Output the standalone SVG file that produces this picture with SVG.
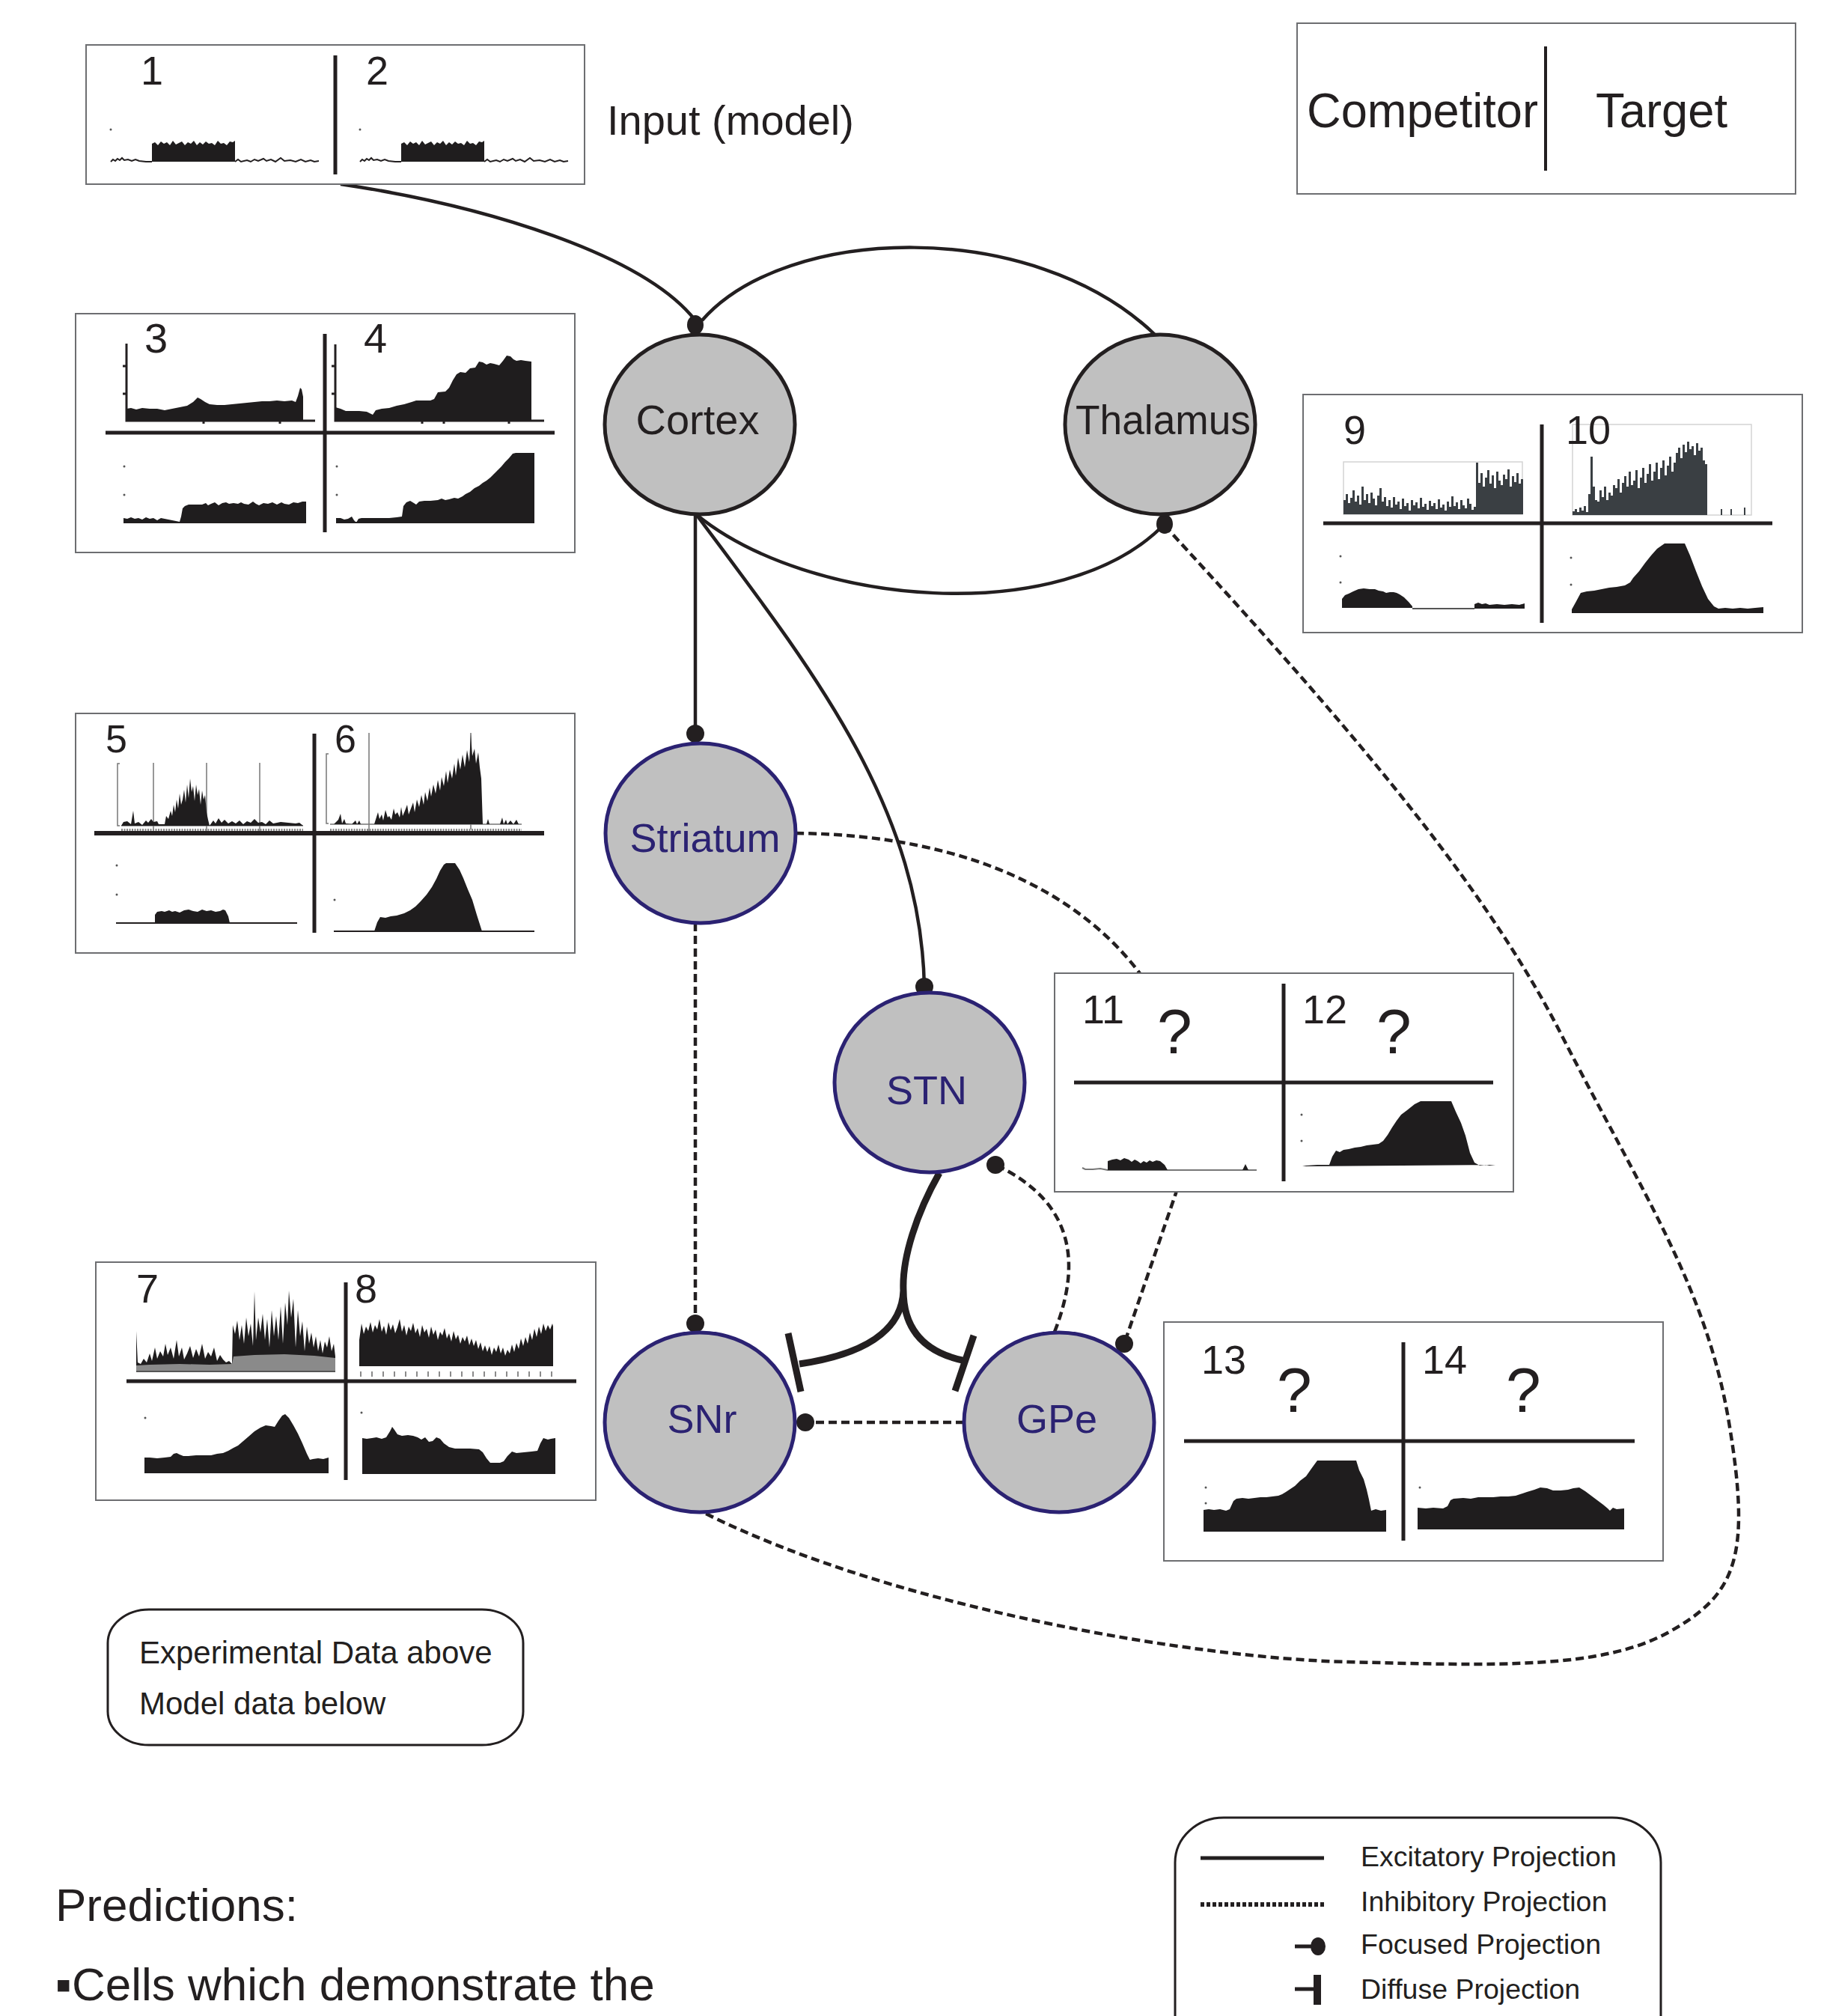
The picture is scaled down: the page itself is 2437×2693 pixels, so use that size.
<svg xmlns="http://www.w3.org/2000/svg" width="2437" height="2693" viewBox="0 0 2437 2693">
<style>
text{font-family:"Liberation Sans",Arial,"DejaVu Sans",sans-serif;fill:#231f20}
.box{fill:#fff;stroke:#6d6e71;stroke-width:2}
.div{stroke:#231f20;stroke-width:5;fill:none}
.hist{fill:#1f1d1e}
.gh{fill:#3a3f43}
.ax{fill:none;stroke:#231f20;stroke-width:2.5}
.thin{fill:none;stroke:#777;stroke-width:1.5}
.frame{fill:none;stroke:#d4d4d4;stroke-width:1.5}
.num{font-size:54px}
.q{font-size:84px}
.ntop{fill:#c0c0c0;stroke:#231f20;stroke-width:5}
.nbot{fill:#c0c0c0;stroke:#2b2272;stroke-width:5}
.lbl{font-size:56px;text-anchor:middle}
.lbl2{font-size:54px;text-anchor:middle;fill:#2b2272}
.conn{fill:none;stroke:#231f20;stroke-width:4.5}
.dash{stroke-dasharray:11 6}
.thick{stroke-width:9}
.dot{fill:#231f20}
.leg{font-size:37.5px}
</style>

<!-- connectors -->
<g id="connectors">
  <path class="conn" d="M455,246 C650,275 860,340 929,428"/>
  <path class="conn" d="M938,428 C1050,300 1380,290 1543,447"/>
  <path class="conn" d="M930,687 C1080,810 1420,840 1556,700"/>
  <path class="conn" d="M929,687 V979"/>
  <path class="conn" d="M930,687 C1090,900 1230,1080 1235,1318"/>
  <path class="conn dash" d="M929,1233 V1768"/>
  <path class="conn dash" d="M1063,1113 C1300,1115 1480,1200 1560,1360 C1600,1450 1580,1560 1571,1594 L1502,1795"/>
  <path class="conn dash" d="M1556,702 C1770,935 1975,1165 2085,1380 S2280,1720 2310,1900 S2320,2130 2230,2180 S2000,2225 1800,2220 S1200,2150 941,2021"/>
  <path class="conn thick" d="M1255,1567 C1225,1620 1205,1680 1207,1724 C1205,1780 1150,1810 1068,1822 M1207,1724 C1207,1780 1240,1808 1290,1818"/>
  <path class="conn thick" d="M1053,1781 L1070,1859 M1301,1784 L1276,1858"/>
  <path class="conn dash" d="M1409,1779 C1440,1700 1445,1610 1330,1556"/>
  <path class="conn dash" d="M1288,1900 H1076"/>
  <ellipse class="dot" cx="929" cy="434" rx="11" ry="13"/>
  <ellipse class="dot" cx="1556" cy="700" rx="11" ry="13"/>
  <circle class="dot" cx="929" cy="980" r="12"/>
  <circle class="dot" cx="1235" cy="1318" r="12"/>
  <circle class="dot" cx="929" cy="1768" r="12"/>
  <circle class="dot" cx="1330" cy="1556" r="12"/>
  <circle class="dot" cx="1502" cy="1795" r="12"/>
  <circle class="dot" cx="1076" cy="1900" r="12"/>
</g>

<!-- nodes -->
<g id="node-cortex"><ellipse class="ntop" cx="935" cy="567" rx="127" ry="120"/><text class="lbl" x="932" y="580">Cortex</text></g>
<g id="node-thalamus"><ellipse class="ntop" cx="1550" cy="567" rx="127" ry="120"/><text class="lbl" x="1554" y="580" textLength="234" lengthAdjust="spacingAndGlyphs">Thalamus</text></g>
<g id="node-striatum"><ellipse class="nbot" cx="936" cy="1113" rx="127" ry="120"/><text class="lbl2" x="942" y="1138">Striatum</text></g>
<g id="node-stn"><ellipse class="nbot" cx="1242" cy="1446" rx="127" ry="120"/><text class="lbl2" x="1238" y="1475">STN</text></g>
<g id="node-snr"><ellipse class="nbot" cx="935" cy="1900" rx="127" ry="120"/><text class="lbl2" x="938" y="1914">SNr</text></g>
<g id="node-gpe"><ellipse class="nbot" cx="1415" cy="1900" rx="127" ry="120"/><text class="lbl2" x="1412" y="1914">GPe</text></g>

<!-- input panel -->
<g id="panel-input">
  <rect class="box" x="115" y="60" width="666" height="186"/>
  <line class="div" x1="448" y1="74" x2="448" y2="233"/>
  <text class="num" x="188" y="113">1</text>
  <text class="num" x="489" y="113">2</text>
  <g id="input-trace">
    <path class="thin" d="M148,216 L151,213 154,215 157,212 160,214 163,211 166,214 171,213 176,215 181,213 186,215 195,216 203,216 M314,216 L318,213 322,216 330,214 335,216 340,213 345,215 352,212 356,215 362,213 368,216 375,211 380,215 388,214 395,216 402,213 408,216 415,214 420,216 426,215" style="stroke:#231f20;stroke-width:2"/>
    <path class="hist" d="M203,216 L203,192 207,190 211,194 215,189 219,192 223,190 227,194 231,188 235,193 239,191 243,189 247,194 251,190 255,192 259,188 263,194 267,190 271,193 275,189 279,192 283,191 287,194 291,188 295,192 299,191 303,194 307,189 311,190 314,188 L314,216 Z"/>
    <circle cx="148" cy="173" r="1.5" fill="#555"/>
  </g>
  <use href="#input-trace" transform="translate(333,0)"/>
</g>
<text x="811" y="180" style="font-size:56px">Input (model)</text>

<!-- competitor / target key -->
<g id="key-competitor-target">
  <rect class="box" x="1733" y="31" width="666" height="228"/>
  <line class="div" x1="2065" y1="62" x2="2065" y2="228" style="stroke-width:4"/>
  <text x="1746" y="170" style="font-size:64px" textLength="309" lengthAdjust="spacingAndGlyphs">Competitor</text>
  <text x="2132" y="170" style="font-size:64px" textLength="176" lengthAdjust="spacingAndGlyphs">Target</text>
</g>

<!-- panel 3/4 (Cortex) -->
<g id="panel-3-4">
  <rect class="box" x="101" y="419" width="667" height="319"/>
  <path class="ax" d="M169,459 V562 H421 M164,489 H169 M164,526 H169 M272,562 v4 M374,562 v4" style="stroke-width:3"/>
  <path class="hist" d="M169,562 L169,546 175,545 182,547 190,545 200,546 210,546 220,548 230,546 240,544 250,542 258,537 264,531 268,533 274,537 280,540 290,541 300,541 310,540 320,539 330,538 340,537 350,536 360,536 370,535 380,536 390,535 395,537 398,529 401,518 403,520 405,530 405,562 Z"/>
  <path class="ax" d="M448,460 V562 H727 M443,489 H448 M443,526 H448 M564,562 v4 M593,562 v4 M680,562 v4" style="stroke-width:3"/>
  <path class="hist" d="M448,562 L448,544 455,546 462,549 470,549 480,549 490,550 498,554 502,548 510,546 520,545 530,542 540,540 550,537 556,535 565,535 575,535 580,533 585,524 595,523 600,518 605,508 610,500 615,497 622,498 628,492 635,491 640,483 645,484 650,487 655,485 660,486 667,488 672,482 677,475 682,476 686,480 690,482 696,481 702,482 710,483 710,562 Z"/>
  <line class="div" x1="141" y1="578" x2="741" y2="578"/>
  <line class="div" x1="434" y1="446" x2="434" y2="711"/>
  <text class="num" x="193" y="471" style="font-size:56px">3</text>
  <text class="num" x="486" y="471" style="font-size:56px">4</text>
  <path class="ax" d="M165,698 H409 M449,698 H714" style="stroke-width:2"/>
  <path class="hist" d="M165,698 L165,692 170,693 175,691 180,693 185,692 190,694 195,691 200,693 205,692 210,695 215,692 220,693 225,694 230,695 235,696 240,697 242,690 244,679 247,676 252,674 260,674 270,674 275,672 278,675 282,673 287,671 292,675 297,672 302,671 306,673 312,672 318,673 322,671 326,673 332,674 338,670 342,673 346,675 352,672 358,673 364,671 370,674 376,671 380,673 386,674 392,671 398,672 404,670 409,670 409,698 Z"/>
  <path class="hist" d="M449,698 L449,692 455,692 460,694 465,693 470,690 473,695 476,698 479,693 483,692 490,692 500,692 510,692 520,692 530,691 537,690 539,676 543,671 548,669 553,672 556,674 560,670 567,669 575,669 585,668 590,666 595,668 600,667 607,665 612,666 618,663 622,660 628,657 634,652 640,649 645,645 650,642 655,638 660,633 665,628 670,623 675,617 680,612 685,606 689,605 714,605 714,698 Z"/>
  <circle cx="166" cy="623" r="1.5" fill="#555"/><circle cx="166" cy="661" r="1.5" fill="#555"/>
  <circle cx="450" cy="623" r="1.5" fill="#555"/><circle cx="450" cy="661" r="1.5" fill="#555"/>
</g>

<!-- panel 5/6 (Striatum) -->
<g id="panel-5-6">
  <rect class="box" x="101" y="953" width="667" height="320"/>
  <path class="thin" d="M160,1020 H157 V1103 H160 M205,1019 V1110 M276,1019 V1110 M347,1019 V1110 M162,1103 H405"/>
  <path class="hist" d="M162,1103 L165,1098 170,1097 175,1101 178,1083 180,1100 185,1098 190,1102 195,1096 198,1099 202,1094 205,1098 210,1097 212,1101 220,1101 222,1090 225,1094 228,1083 230,1090 232,1075 234,1085 236,1068 238,1080 240,1060 242,1075 244,1068 246,1055 248,1072 250,1048 252,1066 254,1040 256,1058 258,1050 260,1070 262,1048 264,1062 266,1054 268,1075 270,1056 272,1068 274,1062 276,1085 278,1095 280,1103 285,1096 288,1100 292,1093 296,1099 300,1095 305,1100 310,1097 315,1100 320,1096 325,1101 330,1097 335,1099 340,1094 345,1099 350,1098 355,1101 360,1096 365,1100 375,1098 385,1099 395,1100 400,1099 405,1103 Z"/>
  <line x1="162" y1="1109" x2="405" y2="1109" style="stroke:#888;stroke-width:4;stroke-dasharray:2 1.5"/>
  <path class="thin" d="M439,1007 H436 V1100 H439 M493,979 V1110 M629,979 V1108 M441,1101 H697"/>
  <path class="hist" d="M441,1101 L446,1101 452,1095 455,1087 457,1100 460,1094 462,1100 470,1101 475,1096 477,1101 480,1096 482,1101 500,1101 505,1085 507,1094 510,1088 512,1096 515,1082 518,1092 520,1090 523,1095 526,1080 528,1088 531,1085 534,1092 536,1078 538,1090 541,1083 544,1075 546,1088 549,1080 552,1072 554,1085 557,1068 560,1078 563,1062 566,1075 568,1058 571,1070 574,1052 576,1064 579,1048 582,1060 585,1042 588,1056 590,1038 593,1050 596,1030 598,1046 601,1028 604,1040 607,1020 609,1036 612,1012 615,1028 618,1008 621,1025 624,1002 627,1018 629,980 631,1010 634,1000 636,1020 639,1005 641,1025 643,1040 645,1101 650,1101 652,1094 654,1101 668,1101 671,1092 673,1101 676,1095 678,1101 682,1096 686,1101 690,1095 693,1101 697,1101 Z"/>
  <line x1="441" y1="1109" x2="697" y2="1109" style="stroke:#888;stroke-width:4;stroke-dasharray:2 1.5"/>
  <line class="div" x1="126" y1="1113" x2="727" y2="1113" style="stroke-width:6"/>
  <line class="div" x1="420" y1="980" x2="420" y2="1246"/>
  <text class="num" x="141" y="1005" style="font-size:52px">5</text>
  <text class="num" x="447" y="1005" style="font-size:52px">6</text>
  <path class="ax" d="M155,1233 H397 M446,1244 H714" style="stroke-width:2"/>
  <path class="hist" d="M207,1233 L207,1222 210,1218 216,1217 220,1218 226,1216 230,1218 234,1217 240,1219 246,1216 252,1215 258,1217 264,1218 270,1215 276,1217 282,1216 288,1218 294,1217 298,1215 301,1216 305,1224 307,1233 Z"/>
  <path class="hist" d="M500,1244 L504,1232 508,1225 515,1226 522,1224 530,1223 540,1220 548,1216 555,1211 562,1204 570,1195 577,1185 583,1174 588,1163 593,1155 596,1153 608,1153 614,1162 619,1173 625,1188 631,1202 637,1222 644,1244 Z"/>
  <circle cx="156" cy="1156" r="1.5" fill="#555"/><circle cx="156" cy="1195" r="1.5" fill="#555"/><circle cx="447" cy="1202" r="1.5" fill="#555"/>
</g>

<!-- panel 9/10 (Thalamus) -->
<g id="panel-9-10">
  <rect class="box" x="1741" y="527" width="667" height="318"/>
  <rect class="frame" x="1795" y="617" width="239" height="70"/>
  <path class="gh" d="M1795,687 V668 h3 V660 h3 V672 h3 V665 h3 V655 h3 V670 h3 V662 h3 V674 h3 V650 h3 V668 h3 V660 h3 V672 h3 V658 h3 V666 h3 V675 h3 V662 h3 V652 h3 V670 h3 V664 h3 V676 h3 V668 h3 V678 h3 V664 h3 V674 h3 V670 h3 V680 h3 V666 h3 V676 h3 V672 h3 V682 h3 V668 h3 V675 h3 V671 h3 V679 h3 V665 h3 V677 h3 V673 h3 V681 h3 V669 h3 V676 h3 V672 h3 V680 h3 V667 h3 V678 h3 V674 h3 V682 h3 V670 h3 V677 h3 V663 h3 V676 h3 V671 h3 V680 h3 V668 h3 V675 h3 V679 h3 V666 h3 V673 h3 V681 h3 V677 h3 V618 h3 V645 h3 V632 h3 V650 h3 V638 h3 V628 h3 V646 h3 V635 h3 V652 h3 V630 h3 V642 h3 V648 h3 V634 h3 V640 h3 V627 h3 V650 h3 V636 h3 V644 h3 V632 h3 V646 h3 V640 h3 V687 Z"/>
  <rect class="frame" x="2101" y="567" width="239" height="121"/>
  <path class="gh" d="M2101,688 V683 h3 V680 h3 V684 h3 V678 h3 V682 h3 V676 h3 V684 h3 V660 h3 V610 h3 V650 h3 V668 h3 V670 h3 V655 h3 V664 h3 V650 h3 V668 h3 V658 h3 V662 h3 V648 h3 V652 h3 V640 h3 V658 h3 V645 h3 V636 h3 V650 h3 V630 h3 V648 h3 V642 h3 V628 h3 V652 h3 V638 h3 V625 h3 V645 h3 V633 h3 V620 h3 V642 h3 V630 h3 V618 h3 V640 h3 V625 h3 V615 h3 V635 h3 V622 h3 V610 h3 V630 h3 V618 h3 V605 h3 V598 h3 V612 h3 V594 h3 V604 h3 V590 h3 V600 h3 V596 h3 V608 h3 V592 h3 V602 h3 V598 h3 V615 h3 V620 h3 V688 Z"/>
  <path d="M2300,688 V680 M2313,688 V680 M2331,688 V678" style="stroke:#3a3f43;stroke-width:2"/>
  <line class="div" x1="1768" y1="699" x2="2368" y2="699"/>
  <line class="div" x1="2060" y1="567" x2="2060" y2="832"/>
  <text class="num" x="1795" y="593">9</text>
  <text class="num" x="2092" y="593">10</text>
  <path class="hist" d="M1793,812 L1793,800 1797,795 1802,793 1808,790 1815,787 1822,786 1830,787 1837,787 1842,789 1848,790 1852,792 1857,791 1862,791 1866,792 1870,794 1876,798 1882,804 1887,810 1887,812 Z"/>
  <line x1="1887" y1="813" x2="1970" y2="813" style="stroke:#555;stroke-width:2"/>
  <path class="hist" d="M1970,813 L1970,807 1975,805 1980,807 1985,806 1990,808 2000,807 2010,808 2020,807 2030,808 2037,806 2037,813 Z"/>
  <path class="hist" d="M2100,819 L2100,814 2105,805 2112,792 2120,790 2130,789 2140,787 2150,785 2160,784 2171,782 2178,778 2182,772 2190,763 2198,752 2206,742 2214,733 2224,726 2251,726 2258,742 2266,763 2274,783 2282,800 2290,810 2296,813 2305,812 2315,813 2325,812 2335,813 2345,812 2356,811 2356,819 Z"/>
  <circle cx="1791" cy="743" r="1.5" fill="#555"/><circle cx="1791" cy="778" r="1.5" fill="#555"/><circle cx="2099" cy="745" r="1.5" fill="#555"/><circle cx="2099" cy="781" r="1.5" fill="#555"/>
</g>

<!-- panel 7/8 (SNr) -->
<g id="panel-7-8">
  <rect class="box" x="128" y="1686" width="668" height="318"/>
  <path class="hist" d="M182,1832 L182,1778 184,1820 188,1822 192,1815 196,1820 200,1808 203,1818 207,1800 210,1815 214,1805 218,1812 221,1795 224,1810 228,1800 232,1815 236,1790 239,1812 243,1800 246,1816 250,1808 254,1798 258,1814 262,1802 266,1812 270,1795 274,1815 278,1806 282,1812 286,1800 290,1818 294,1810 298,1816 302,1820 306,1818 310,1822 311,1770 314,1782 317,1764 320,1790 323,1770 326,1795 329,1760 332,1785 335,1768 338,1798 340,1725 342,1790 345,1760 348,1780 351,1755 354,1790 357,1762 360,1800 363,1750 366,1785 369,1758 372,1790 375,1745 378,1795 381,1740 384,1770 386,1724 389,1760 392,1735 395,1800 398,1750 401,1785 404,1765 407,1805 410,1772 413,1795 416,1780 419,1800 422,1785 425,1805 428,1790 431,1808 434,1792 437,1800 440,1785 443,1805 446,1795 448,1812 448,1832 Z"/>
  <path d="M182,1832 V1824 L200,1823 240,1822 280,1823 310,1822 L312,1812 340,1810 380,1809 420,1811 448,1814 V1832 Z" fill="#8a8a8a"/>
  <line x1="182" y1="1832" x2="448" y2="1832" style="stroke:#555;stroke-width:2"/>
  <path class="hist" d="M480,1825 L480,1790 483,1768 486,1782 489,1772 492,1778 495,1766 498,1780 501,1770 504,1776 507,1762 510,1779 513,1771 516,1783 519,1766 522,1777 525,1769 528,1781 531,1773 534,1762 537,1779 540,1770 543,1784 546,1772 549,1778 552,1767 555,1781 558,1774 561,1786 564,1770 567,1780 570,1775 573,1787 576,1772 579,1783 582,1776 585,1790 588,1779 591,1784 594,1774 597,1788 600,1781 603,1792 606,1778 609,1789 612,1783 615,1795 618,1786 621,1792 624,1784 627,1797 630,1788 633,1798 636,1790 639,1802 642,1793 645,1805 648,1797 651,1806 654,1798 657,1810 660,1800 663,1806 666,1796 669,1808 672,1800 675,1811 678,1803 681,1808 684,1796 687,1806 690,1794 693,1802 696,1788 699,1798 702,1786 705,1795 708,1780 711,1790 714,1775 717,1786 720,1772 723,1782 726,1768 729,1778 732,1770 735,1776 738,1768 739,1772 739,1825 Z"/>
  <path d="M482,1832 v7 M497,1832 v7 M512,1832 v7 M527,1832 v7 M542,1832 v7 M557,1832 v7 M572,1832 v7 M587,1832 v7 M602,1832 v7 M617,1832 v7 M632,1832 v7 M647,1832 v7 M662,1832 v7 M677,1832 v7 M692,1832 v7 M707,1832 v7 M722,1832 v7 M737,1832 v7" style="stroke:#666;stroke-width:1.5"/>
  <line class="div" x1="169" y1="1845" x2="770" y2="1845"/>
  <line class="div" x1="462" y1="1713" x2="462" y2="1977"/>
  <text class="num" x="182" y="1740">7</text>
  <text class="num" x="474" y="1740">8</text>
  <path class="hist" d="M193,1968 L193,1947 200,1947 210,1948 220,1947 228,1946 232,1942 236,1941 240,1943 245,1945 252,1945 262,1944 272,1944 282,1944 290,1942 298,1941 305,1938 312,1934 318,1931 325,1925 332,1919 340,1912 348,1907 355,1904 362,1905 367,1906 372,1898 377,1891 381,1889 386,1894 392,1904 398,1915 404,1928 410,1942 414,1950 418,1949 425,1948 432,1949 439,1947 439,1968 Z"/>
  <path class="hist" d="M484,1969 L484,1921 490,1922 497,1921 503,1920 510,1922 516,1920 521,1912 524,1906 527,1910 531,1916 537,1918 545,1917 552,1918 558,1920 563,1923 568,1920 573,1926 578,1925 583,1920 588,1922 593,1928 600,1933 608,1935 618,1935 628,1935 640,1936 645,1940 650,1948 655,1954 668,1954 673,1952 678,1945 684,1939 690,1941 700,1940 710,1939 718,1938 722,1928 726,1921 732,1923 736,1922 742,1921 742,1969 Z"/>
  <circle cx="194" cy="1894" r="1.5" fill="#555"/><circle cx="483" cy="1887" r="1.5" fill="#555"/>
</g>

<!-- panel 11/12 (STN) -->
<g id="panel-11-12">
  <rect class="box" x="1409" y="1300" width="613" height="292"/>
  <line class="div" x1="1435" y1="1446" x2="1995" y2="1446"/>
  <line class="div" x1="1715" y1="1314" x2="1715" y2="1578"/>
  <text class="num" x="1446" y="1367">11</text>
  <text class="num q" x="1546" y="1407">?</text>
  <text class="num" x="1740" y="1367">12</text>
  <text class="num q" x="1839" y="1407">?</text>
  <path d="M1446,1560 L1450,1562 1460,1562 1470,1561 1480,1563 H1679" style="fill:none;stroke:#777;stroke-width:2"/>
  <path class="hist" d="M1480,1563 L1480,1551 1486,1549 1492,1548 1497,1550 1502,1547 1508,1549 1512,1552 1516,1549 1520,1551 1524,1554 1528,1551 1532,1553 1536,1550 1540,1552 1545,1550 1550,1551 1556,1556 1560,1563 Z M1660,1563 L1664,1555 1668,1563 Z"/>
  <path class="hist" d="M1740,1558 L1745,1557 1760,1556 1776,1556 1780,1545 1785,1537 1790,1539 1795,1536 1802,1535 1810,1533 1818,1532 1826,1530 1834,1529 1842,1528 1848,1524 1854,1516 1860,1506 1866,1497 1872,1489 1880,1483 1890,1475 1898,1471 1939,1471 1945,1485 1952,1500 1958,1517 1964,1540 1970,1553 1977,1557 1985,1556 1990,1557 1998,1556 Z"/>
  <circle cx="1739" cy="1489" r="1.5" fill="#555"/><circle cx="1739" cy="1524" r="1.5" fill="#555"/>
</g>

<!-- panel 13/14 (GPe) -->
<g id="panel-13-14">
  <rect class="box" x="1555" y="1766" width="667" height="319"/>
  <line class="div" x1="1582" y1="1925" x2="2184" y2="1925"/>
  <line class="div" x1="1875" y1="1793" x2="1875" y2="2058"/>
  <text class="num" x="1605" y="1835">13</text>
  <text class="num q" x="1706" y="1886">?</text>
  <text class="num" x="1900" y="1835">14</text>
  <text class="num q" x="2012" y="1886">?</text>
  <path class="hist" d="M1608,2046 L1608,2017 1615,2016 1622,2017 1630,2016 1638,2018 1643,2016 1648,2005 1652,2002 1660,2001 1668,2002 1676,2001 1684,2000 1692,2000 1700,1999 1708,1998 1713,1996 1718,1993 1724,1989 1730,1985 1737,1978 1745,1972 1752,1962 1760,1951 1812,1951 1816,1964 1822,1976 1826,1990 1829,2003 1832,2018 1838,2016 1845,2018 1852,2017 1852,2046 Z"/>
  <path class="hist" d="M1894,2043 L1894,2014 1905,2015 1915,2014 1928,2015 1934,2012 1938,2004 1942,2002 1955,2001 1965,2002 1975,2000 1985,2000 1995,2000 2005,1999 2015,1999 2025,1998 2031,1996 2040,1993 2050,1990 2058,1987 2067,1988 2075,1991 2085,1991 2095,1990 2102,1988 2110,1987 2118,1992 2126,1998 2134,2004 2142,2010 2148,2015 2151,2018 2155,2014 2160,2016 2170,2015 2170,2043 Z"/>
  <circle cx="1611" cy="1987" r="1.5" fill="#555"/><circle cx="1611" cy="2008" r="1.5" fill="#555"/><circle cx="1897" cy="1987" r="1.5" fill="#555"/>
</g>

<!-- data legend -->
<g id="note-data">
  <rect x="144" y="2150" width="555" height="181" rx="55" ry="45" style="fill:#fff;stroke:#231f20;stroke-width:3"/>
  <text x="186" y="2222" style="font-size:42px">Experimental Data above</text>
  <text x="186" y="2290" style="font-size:42px">Model data below</text>
</g>

<text x="74" y="2566" style="font-size:62px">Predictions:</text>
<text x="74" y="2672" style="font-size:62px">▪Cells which demonstrate the</text>

<!-- projection legend -->
<g id="legend-projections">
  <rect x="1570" y="2428" width="649" height="420" rx="65" ry="60" style="fill:#fff;stroke:#231f20;stroke-width:3"/>
  <line x1="1604" y1="2482" x2="1769" y2="2482" style="stroke:#231f20;stroke-width:5"/>
  <line x1="1604" y1="2544" x2="1769" y2="2544" style="stroke:#231f20;stroke-width:6;stroke-dasharray:5 3"/>
  <line x1="1730" y1="2600" x2="1755" y2="2600" style="stroke:#231f20;stroke-width:5"/>
  <ellipse class="dot" cx="1761" cy="2600" rx="10" ry="12"/>
  <line x1="1730" y1="2657" x2="1755" y2="2657" style="stroke:#231f20;stroke-width:5"/>
  <line x1="1760" y1="2638" x2="1760" y2="2678" style="stroke:#231f20;stroke-width:10"/>
  <text class="leg" x="1818" y="2493">Excitatory Projection</text>
  <text class="leg" x="1818" y="2553">Inhibitory Projection</text>
  <text class="leg" x="1818" y="2610">Focused Projection</text>
  <text class="leg" x="1818" y="2670">Diffuse Projection</text>
</g>
</svg>
